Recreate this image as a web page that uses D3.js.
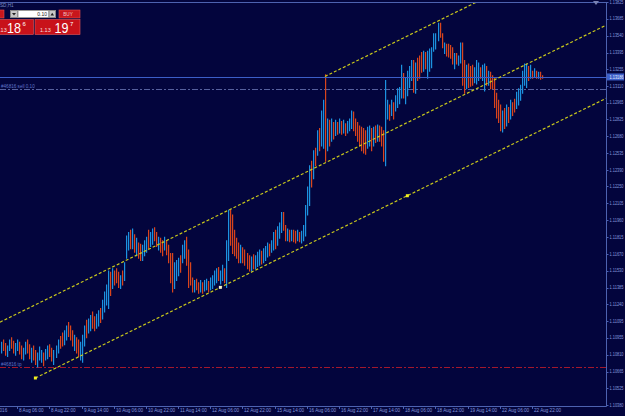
<!DOCTYPE html>
<html>
<head>
<meta charset="utf-8">
<script src="https://cdnjs.cloudflare.com/ajax/libs/d3/7.8.5/d3.min.js"></script>
<style>
html, body { margin: 0; padding: 0; background: #03053d; overflow: hidden; }
</style>
</head>
<body>
<script>
// EURUSD,H1 bars from Fri 5 Aug 22:00 onwards (one entry per hour)
var barHigh = [
  1.1092,1.1094,1.1091,1.1089,1.1094,1.1096,1.1093,1.1091,1.1094,1.1092,
  1.1089,1.1087,1.1092,1.1094,1.1090,1.1087,1.1089,1.1085,1.1083,1.1088,
  1.1085,1.1083,1.1086,1.1089,1.1090,1.1087,1.1085,1.1089,1.1094,1.1097,
  1.1100,1.1102,1.1106,1.1109,1.1106,1.1102,1.1098,1.1096,1.1094,1.1092,
  1.1098,1.1106,1.1111,1.1112,1.1115,1.1118,1.1114,1.1116,1.1119,1.1121,
  1.1128,1.1135,1.1141,1.1153,1.1152,1.1155,1.1153,1.1155,1.1152,1.1149,
  1.1153,1.1160,1.1183,1.1186,1.1188,1.1189,1.1184,1.1181,1.1177,1.1176,
  1.1175,1.1179,1.1182,1.1188,1.1186,1.1189,1.1190,1.1186,1.1182,1.1181,
  1.1179,1.1182,1.1179,1.1175,1.1168,1.1168,1.1160,1.1162,1.1164,1.1166,
  1.1175,1.1179,1.1182,1.1171,1.1160,1.1147,1.1145,1.1146,1.1143,1.1145,
  1.1143,1.1145,1.1146,1.1144,1.1147,1.1149,1.1153,1.1155,1.1156,1.1153,
  1.1158,1.1155,1.1179,1.1205,1.1205,1.1201,1.1188,1.1181,1.1177,1.1175,
  1.1173,1.1171,1.1168,1.1166,1.1165,1.1167,1.1166,1.1169,1.1171,1.1170,
  1.1172,1.1174,1.1177,1.1176,1.1179,1.1186,1.1188,1.1191,1.1194,1.1203,
  1.1203,1.1192,1.1189,1.1188,1.1188,1.1188,1.1187,1.1188,1.1186,1.1187,
  1.1192,1.1209,1.1225,1.1243,1.1247,1.1256,1.1258,1.1273,1.1275,1.1290,
  1.1299,1.1321,1.1283,1.1282,1.1283,1.1280,1.1282,1.1280,1.1283,1.1281,
  1.1282,1.1279,1.1281,1.1283,1.1290,1.1289,1.1283,1.1280,1.1277,1.1276,
  1.1275,1.1273,1.1276,1.1277,1.1275,1.1276,1.1277,1.1278,1.1277,1.1276,
  1.1273,1.1316,1.1299,1.1295,1.1299,1.1297,1.1303,1.1309,1.1310,1.1329,
  1.1322,1.1318,1.1324,1.1328,1.1333,1.1333,1.1331,1.1335,1.1337,1.1340,
  1.1341,1.1340,1.1341,1.1343,1.1344,1.1356,1.1356,1.1365,1.1365,1.1356,
  1.1348,1.1347,1.1347,1.1346,1.1344,1.1339,1.1339,1.1337,1.1348,1.1348,
  1.1333,1.1329,1.1330,1.1328,1.1329,1.1327,1.1333,1.1331,1.1327,1.1329,
  1.1330,1.1328,1.1324,1.1323,1.1320,1.1318,1.1305,1.1299,1.1295,1.1290,
  1.1292,1.1295,1.1293,1.1299,1.1297,1.1300,1.1306,1.1309,1.1312,1.1324,
  1.1330,1.1330,1.1328,1.1329,1.1324,1.1326,1.1324,1.1323,1.1323,1.1320
];
var barLow = [
  1.1083,1.1085,1.1081,1.1080,1.1085,1.1087,1.1083,1.1081,1.1085,1.1082,
  1.1078,1.1077,1.1082,1.1083,1.1078,1.1075,1.1077,1.1073,1.1071,1.1077,
  1.1075,1.1072,1.1077,1.1078,1.1080,1.1076,1.1073,1.1079,1.1083,1.1087,
  1.1089,1.1090,1.1094,1.1097,1.1094,1.1089,1.1085,1.1083,1.1080,1.1077,
  1.1075,1.1089,1.1096,1.1100,1.1102,1.1104,1.1102,1.1104,1.1106,1.1109,
  1.1112,1.1118,1.1124,1.1121,1.1132,1.1138,1.1141,1.1143,1.1139,1.1138,
  1.1141,1.1145,1.1164,1.1171,1.1172,1.1172,1.1169,1.1166,1.1164,1.1162,
  1.1162,1.1166,1.1169,1.1172,1.1174,1.1176,1.1179,1.1174,1.1171,1.1169,
  1.1166,1.1171,1.1167,1.1160,1.1143,1.1135,1.1138,1.1145,1.1149,1.1152,
  1.1160,1.1164,1.1158,1.1139,1.1141,1.1135,1.1135,1.1137,1.1134,1.1135,
  1.1134,1.1136,1.1137,1.1135,1.1137,1.1138,1.1141,1.1143,1.1145,1.1142,
  1.1145,1.1143,1.1139,1.1162,1.1175,1.1168,1.1166,1.1164,1.1160,1.1160,
  1.1160,1.1158,1.1155,1.1153,1.1153,1.1155,1.1155,1.1157,1.1158,1.1159,
  1.1160,1.1162,1.1165,1.1166,1.1169,1.1171,1.1172,1.1175,1.1181,1.1186,
  1.1188,1.1179,1.1179,1.1178,1.1179,1.1178,1.1177,1.1179,1.1178,1.1177,
  1.1179,1.1183,1.1201,1.1209,1.1225,1.1232,1.1243,1.1252,1.1256,1.1260,
  1.1258,1.1247,1.1256,1.1260,1.1264,1.1266,1.1269,1.1270,1.1271,1.1270,
  1.1271,1.1269,1.1271,1.1273,1.1275,1.1273,1.1269,1.1264,1.1260,1.1256,
  1.1254,1.1253,1.1258,1.1260,1.1256,1.1260,1.1263,1.1264,1.1264,1.1260,
  1.1247,1.1243,1.1283,1.1282,1.1286,1.1283,1.1290,1.1293,1.1296,1.1301,
  1.1301,1.1296,1.1303,1.1310,1.1316,1.1306,1.1305,1.1316,1.1318,1.1323,
  1.1324,1.1326,1.1318,1.1324,1.1327,1.1341,1.1343,1.1350,1.1353,1.1344,
  1.1339,1.1337,1.1336,1.1335,1.1330,1.1326,1.1330,1.1329,1.1331,1.1312,
  1.1305,1.1309,1.1310,1.1311,1.1312,1.1314,1.1313,1.1316,1.1318,1.1316,
  1.1307,1.1312,1.1312,1.1309,1.1309,1.1293,1.1284,1.1280,1.1273,1.1272,
  1.1275,1.1277,1.1280,1.1283,1.1286,1.1289,1.1292,1.1295,1.1299,1.1305,
  1.1312,1.1310,1.1316,1.1318,1.1318,1.1319,1.1318,1.1318,1.1317,1.1318
];
// u = bull bar, d = bear bar
var barDir = [
  "udduudduud","duuddudduu","uduudduuud","duuddduddu","uuduudduud",
  "uuuududddu","duuudududd","uuuduuddud","dudddduuud","uudddduddu",
  "duuduuuudu","uduudddddu","dddduduuud","uuuduuduuu","ddududdudu",
  "uuuudududu","ududududud","uduuuddddd","dduudududd","duududuuuu",
  "duuuududdd","uduuuuuudd","udddduduud","duddduuudu","ududdddddu",
  "dududduuuu","uududududd"
].join("");

var priceLabels = ["1.13825","1.13685","1.13540","1.13395","1.13255","1.13110","1.12965",
  "1.12825","1.12680","1.12535","1.12390","1.12250","1.12105","1.11960","1.11815",
  "1.11670","1.11530","1.11385","1.11240","1.11095","1.10955","1.10810","1.10665",
  "1.10525","1.10380"];
var timeLabels = ["8 Aug 06:00","8 Aug 22:00","9 Aug 14:00","10 Aug 06:00","10 Aug 22:00",
  "11 Aug 14:00","12 Aug 06:00","12 Aug 22:00","15 Aug 14:00","16 Aug 06:00",
  "16 Aug 22:00","17 Aug 14:00","18 Aug 06:00","18 Aug 22:00","19 Aug 14:00",
  "22 Aug 06:00","22 Aug 22:00"];
var firstLabel = "5 Aug 2016";

// channel lines: [bar index, price] anchor pairs
var chLower  = [[17, 1.10611], [202, 1.12170]];
var chMiddle = [[0, 1.11094], [200, 1.12779]];
var chUpper  = [[161, 1.13190], [200, 1.13519]];
var chDots   = [17, 109, 202];

var bidPrice = 1.13186, askPrice = 1.13197;
var sellPrice = 1.13082, tpPrice = 1.10705;

var W = 625, H = 416;
var plotL = 0, plotT = 2, plotR = 606, plotB = 406;
var upCol = "#1c92e0", dnCol = "#d9441c";
var axisCol = "#4d62b0", textCol = "#8497dc";
var font = "Liberation Sans, Arial, sans-serif";

var svg = d3.select("body").append("svg")
  .attr("width", W).attr("height", H)
  .style("display", "block")
  .style("background", "#03053d");

var x = d3.scaleLinear().domain([8, 264]).range([17.3, 532]);
var y = d3.scaleLinear().domain([1.10380, 1.13810]).range([405, 4]);

svg.append("clipPath").attr("id", "plot")
  .append("rect").attr("x", plotL).attr("y", plotT)
  .attr("width", plotR - plotL).attr("height", plotB - plotT);

var plot = svg.append("g").attr("clip-path", "url(#plot)");

// order lines
plot.append("line")
  .attr("x1", plotL).attr("x2", plotR)
  .attr("y1", Math.round(y(sellPrice)) + 0.5).attr("y2", Math.round(y(sellPrice)) + 0.5)
  .attr("stroke", "#56609e").attr("stroke-dasharray", "6,2,2,2");
plot.append("line")
  .attr("x1", plotL).attr("x2", plotR)
  .attr("y1", Math.round(y(tpPrice)) + 0.5).attr("y2", Math.round(y(tpPrice)) + 0.5)
  .attr("stroke", "#a3182c").attr("stroke-dasharray", "6,2,2,2");

// bars
var bars = barHigh.map(function(h, i) {
  return { i: i, hi: h, lo: barLow[i], up: barDir[i] == "u" };
});
plot.append("g").selectAll("line")
  .data(bars)
  .enter()
  .append("line")
  .attr("x1", function(d) { return Math.round(x(d.i)) + 0.6; })
  .attr("x2", function(d) { return Math.round(x(d.i)) + 0.6; })
  .attr("y1", function(d) { return y(d.hi); })
  .attr("y2", function(d) { return y(d.lo) + 1; })
  .attr("stroke-width", 1.2)
  .attr("stroke", function(d) { return d.up ? upCol : dnCol; });

// bid line
plot.append("line")
  .attr("x1", plotL).attr("x2", plotR)
  .attr("y1", Math.round(y(bidPrice)) + 0.5).attr("y2", Math.round(y(bidPrice)) + 0.5)
  .attr("stroke", "#3c5ec8");

// channel
var lineAt = function(pts, i) {
  var k = (pts[1][1] - pts[0][1]) / (pts[1][0] - pts[0][0]);
  return pts[0][1] + k * (i - pts[0][0]);
};
var drawRay = function(pts, fromEdge) {
  var i0 = fromEdge ? x.invert(plotL) : pts[0][0];
  var i1 = x.invert(plotR);
  plot.append("line")
    .attr("x1", x(i0)).attr("y1", y(lineAt(pts, i0)))
    .attr("x2", x(i1)).attr("y2", y(lineAt(pts, i1)))
    .attr("stroke", "#c9c81c")
    .attr("stroke-width", 1.2)
    .attr("stroke-dasharray", "3,2");
};
drawRay(chLower, false);
drawRay(chMiddle, true);
drawRay(chUpper, false);

plot.selectAll("rect.dot")
  .data(chDots)
  .enter()
  .append("rect")
  .attr("class", "dot")
  .attr("x", function(d) { return x(d) - 1.5; })
  .attr("y", function(d) { return y(lineAt(chLower, d)) - 1.5; })
  .attr("width", 3).attr("height", 3)
  .attr("fill", function(d, k) { return k == 1 ? "#f4f1c8" : "#f2f020"; });

// order labels
svg.append("text").attr("x", 1).attr("y", y(sellPrice) - 1.5)
  .attr("font-family", font).attr("font-size", 4.6)
  .attr("fill", "#5f74c8").text("#46816 sell 0.10");
svg.append("text").attr("x", 1).attr("y", y(tpPrice) - 1.5)
  .attr("font-family", font).attr("font-size", 4.6)
  .attr("fill", "#5f74c8").text("#46816 tp");

// frame
svg.append("path")
  .attr("d", "M" + plotL + "," + (plotT + 0.5) + "H" + (plotR + 0.5) + "V" + (plotB + 0.5) + "H" + plotL)
  .attr("fill", "none").attr("stroke", axisCol);

// shift marker
svg.append("path")
  .attr("d", "M593,1 L599,1 L596,5 Z")
  .attr("fill", "#7a82b4");

// price axis
var pa = svg.append("g")
  .attr("font-family", font)
  .attr("font-size", 4.5);
priceLabels.forEach(function(s) {
  var yy = y(+s);
  pa.append("line").attr("x1", plotR).attr("x2", plotR + 2.5)
    .attr("y1", Math.round(yy) + 0.5).attr("y2", Math.round(yy) + 0.5)
    .attr("stroke", axisCol);
  pa.append("text").attr("x", plotR + 3.5).attr("y", yy + 1.7)
    .attr("textLength", 14).attr("lengthAdjust", "spacingAndGlyphs")
    .attr("fill", textCol).text(s);
});
var by = y(bidPrice);
pa.append("rect").attr("x", plotR + 1).attr("y", by - 3.5)
  .attr("width", W - plotR - 2).attr("height", 7)
  .attr("fill", "#3d60c9");
pa.append("text").attr("x", plotR + 3.5).attr("y", by + 1.7)
  .attr("textLength", 14).attr("lengthAdjust", "spacingAndGlyphs")
  .attr("fill", "#e6ecff").text(bidPrice.toFixed(5));

// time axis
var ta = svg.append("g")
  .attr("font-family", font)
  .attr("font-size", 4.6);
timeLabels.forEach(function(s, k) {
  var xx = Math.round(x(8 + 16 * k)) + 0.5;
  ta.append("line").attr("x1", xx).attr("x2", xx)
    .attr("y1", plotB).attr("y2", plotB + 3).attr("stroke", axisCol);
  ta.append("text").attr("x", xx + 1.5).attr("y", plotB + 6)
    .attr("fill", textCol).text(s);
});
ta.append("text").attr("x", x(0) + 6).attr("y", plotB + 6)
  .attr("text-anchor", "end").attr("fill", textCol).text(firstLabel);

// one-click trading panel
var panel = svg.append("g").attr("font-family", font);
panel.append("text").attr("x", -13).attr("y", 6.5).attr("font-size", 4.6)
  .attr("fill", "#7c8cc4").text("EURUSD,H1");
panel.append("rect").attr("x", -10).attr("y", 10).attr("width", 14).attr("height", 8)
  .attr("fill", "#c8161c").attr("stroke", "#e45050").attr("stroke-width", 0.6);
panel.append("rect").attr("x", 10.5).attr("y", 10.5).attr("width", 7).attr("height", 7)
  .attr("fill", "#c8c8c8").attr("stroke", "#888");
panel.append("path").attr("d", "M12,13 L16,13 L14,15.5 Z").attr("fill", "#222");
panel.append("rect").attr("x", 18).attr("y", 10.5).attr("width", 31).attr("height", 7)
  .attr("fill", "#ffffff").attr("stroke", "#999");
panel.append("text").attr("x", 47).attr("y", 15.8).attr("text-anchor", "end")
  .attr("font-size", 5).attr("fill", "#222").text("0.10");
panel.append("rect").attr("x", 49).attr("y", 10.5).attr("width", 6.5).attr("height", 7)
  .attr("fill", "#c8c8c8").attr("stroke", "#888");
panel.append("path").attr("d", "M50.5,15.5 L54,15.5 L52.2,12.8 Z").attr("fill", "#222");
panel.append("rect").attr("x", 59).attr("y", 10).attr("width", 21).attr("height", 8)
  .attr("fill", "#c8161c").attr("stroke", "#e45050").attr("stroke-width", 0.6);
panel.append("text").attr("x", 68).attr("y", 15.7).attr("text-anchor", "middle")
  .attr("font-size", 4.6).attr("fill", "#f3c6c6").text("BUY");

var quote = function(x0, w, price, smallX, bigX) {
  var s = price.toFixed(5);
  panel.append("rect").attr("x", x0).attr("y", 19.5).attr("width", w).attr("height", 15)
    .attr("fill", "#c8121a").attr("stroke", "#e85a5a").attr("stroke-width", 0.6);
  panel.append("text").attr("x", smallX).attr("y", 32).attr("font-size", 5.5)
    .attr("fill", "#f4dede").text(s.slice(0, 4));
  panel.append("text").attr("x", bigX).attr("y", 33.2).attr("font-size", 15)
    .attr("textLength", 14).attr("lengthAdjust", "spacingAndGlyphs")
    .attr("fill", "#ffffff").text(s.slice(4, 6));
  panel.append("text").attr("x", bigX + 15.5).attr("y", 25.5).attr("font-size", 6)
    .attr("fill", "#ffffff").text(s.slice(6));
};
quote(-10, 43.5, bidPrice, -4, 7);
quote(35, 45, askPrice, 40, 54.5);
</script>
</body>
</html>
